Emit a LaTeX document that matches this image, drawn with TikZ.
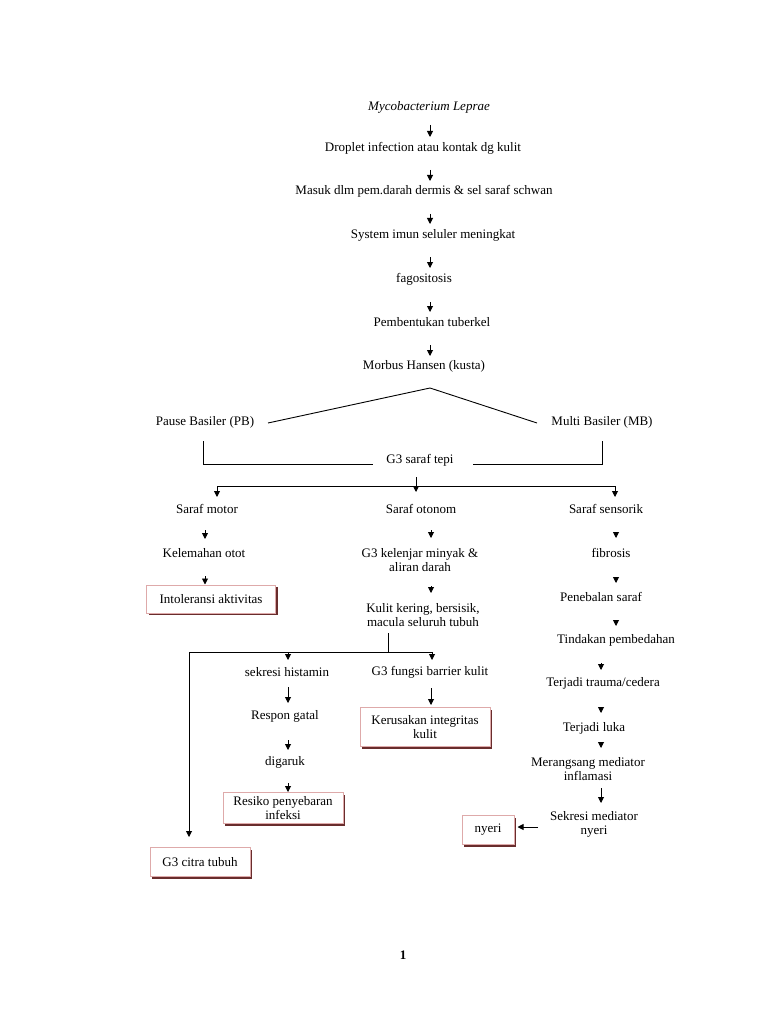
\documentclass[tikz,border=0pt]{standalone}
\usepackage{fontspec}
\setmainfont{Liberation Serif}
\usetikzlibrary{arrows.meta,shadows}
\definecolor{boxborder}{RGB}{222,170,170}
\definecolor{shadowc}{RGB}{105,45,45}
\begin{document}
\begin{tikzpicture}[x=1pt,y=-1pt,
  txt/.style={font=\fontsize{13pt}{14pt}\selectfont, inner sep=0pt, align=center},
  box/.style={txt, draw=boxborder, fill=white, line width=1pt,
     general shadow={fill=shadowc, shadow xshift=2pt, shadow yshift=-2pt}},
  arr/.style={-{Triangle[length=6pt,width=6pt]}, line width=0.9pt},
  ln/.style={line width=0.9pt}]
\useasboundingbox (0,0) rectangle (768,1024);
% main chain
\node[txt] (m)  at (429,107) {\textit{Mycobacterium Leprae}};
\node[txt] (d)  at (423,148) {Droplet infection atau kontak dg kulit};
\node[txt] (ms) at (424,191) {Masuk dlm pem.darah dermis \& sel saraf schwan};
\node[txt] (si) at (433,235) {System imun seluler meningkat};
\node[txt] (fg) at (424,279) {fagositosis};
\node[txt] (pt) at (432,322) {Pembentukan tuberkel};
\node[txt] (mh) at (424,366) {Morbus Hansen (kusta)};
\node[txt] (pb) at (205,422) {Pause Basiler (PB)};
\node[txt] (mb) at (602,422) {Multi Basiler (MB)};
\node[txt] (g3) at (420,460) {G3 saraf tepi};
\node[txt] (sm) at (207,509) {Saraf motor};
\node[txt] (so) at (421,509) {Saraf otonom};
\node[txt] (ss) at (606,509) {Saraf sensorik};
% left column
\node[txt] (ko) at (204,553) {Kelemahan otot};
\node[box, minimum width=129pt, minimum height=28pt] (ia) at (211,599) {Intoleransi aktivitas};
% center column
\node[txt] (gk) at (420,560) {G3 kelenjar minyak \&\\aliran darah};
\node[txt] (kk) at (423,615) {Kulit kering, bersisik,\\macula seluruh tubuh};
\node[txt] (sh) at (287,672) {sekresi histamin};
\node[txt] (gb) at (430,672) {G3 fungsi barrier kulit};
\node[txt] (rg) at (285,716) {Respon gatal};
\node[txt] (dg) at (285,762) {digaruk};
\node[box, minimum width=120pt, minimum height=31pt] (rp) at (283,808) {Resiko penyebaran\\infeksi};
\node[box, minimum width=130pt, minimum height=39pt] (ki) at (425,727) {Kerusakan integritas\\kulit};
\node[box, minimum width=100pt, minimum height=29pt] (ct) at (200,862) {G3 citra tubuh};
% right column
\node[txt] (fb) at (611,553) {fibrosis};
\node[txt] (ps) at (601,597) {Penebalan saraf};
\node[txt] (tp) at (616,640) {Tindakan pembedahan};
\node[txt] (tt) at (603,683) {Terjadi trauma/cedera};
\node[txt] (tl) at (594,728) {Terjadi luka};
\node[txt] (mi) at (588,769) {Merangsang mediator\\inflamasi};
\node[txt] (sk) at (594,824) {Sekresi mediator\\nyeri};
\node[box, minimum width=52pt, minimum height=29pt] (ny) at (488,830) {nyeri};
\node[txt, font=\fontsize{13pt}{14pt}\selectfont\bfseries] (pg) at (403,955) {1};
% main chain arrows
\draw[arr] ([shift={(1,18)}]m.center) -- ([shift={(7,-11)}]d.center);
\draw[arr] ([shift={(7,22)}]d.center) -- ([shift={(6,-10)}]ms.center);
\draw[arr] ([shift={(6,23)}]ms.center) -- ([shift={(-3,-11)}]si.center);
\draw[arr] ([shift={(-3,22)}]si.center) -- ([shift={(6,-11)}]fg.center);
\draw[arr] ([shift={(6,23)}]fg.center) -- ([shift={(-2,-10)}]pt.center);
\draw[arr] ([shift={(-2,23)}]pt.center) -- ([shift={(6,-10)}]mh.center);
% split PB / MB
\draw[ln] ([shift={(63,1)}]pb.center) -- ([shift={(6,22)}]mh.center) -- ([shift={(-65,1)}]mb.center);
% bracket
\draw[ln] ([shift={(-2,19)}]pb.center) |- ([shift={(-47,4)}]g3.center);
\draw[ln] ([shift={(0,19)}]mb.center) |- ([shift={(53,4)}]g3.center);
% G3 saraf tepi split
\draw[arr] ([shift={(-4,17)}]g3.center) -- ([shift={(-5,-17)}]so.center);
\draw[arr] ([shift={(-4,26)}]g3.center) -| ([shift={(10,-12)}]sm.center);
\draw[arr] ([shift={(-4,26)}]g3.center) -| ([shift={(9,-12)}]ss.center);
% left column arrows
\draw[arr] ([shift={(-2,21)}]sm.center) -- ([shift={(1,-14)}]ko.center);
\draw[arr] ([shift={(1,23)}]ko.center) -- ([shift={(-6,0)}]ia.north);
% center column arrows
\draw[arr] ([shift={(10,21)}]so.center) -- ([shift={(11,-22)}]gk.center);
\draw[arr] ([shift={(11,26)}]gk.center) -- ([shift={(8,-22)}]kk.center);
\draw[ln] ([shift={(-35,18)}]kk.center) -- ([shift={(-35,37)}]kk.center);
\draw[arr] ([shift={(-35,37)}]kk.center) -| ([shift={(1,-12)}]sh.center);
\draw[arr] ([shift={(-35,37)}]kk.center) -| ([shift={(2,-12)}]gb.center);
\draw[arr] ([shift={(-35,37)}]kk.center) -| ([shift={(-11,-10)}]ct.north);
\draw[arr] ([shift={(1,15)}]sh.center) -- ([shift={(3,-13)}]rg.center);
\draw[arr] ([shift={(3,24)}]rg.center) -- ([shift={(3,-12)}]dg.center);
\draw[arr] ([shift={(3,21)}]dg.center) -- ([shift={(5,0)}]rp.north);
\draw[arr] ([shift={(1,16)}]gb.center) -- ([shift={(6,-2)}]ki.north);
% right column arrows
\draw[arr] ([shift={(10,23)}]ss.center) -- ([shift={(5,-15)}]fb.center);
\draw[arr] ([shift={(5,24)}]fb.center) -- ([shift={(15,-14)}]ps.center);
\draw[arr] ([shift={(15,23)}]ps.center) -- ([shift={(0,-14)}]tp.center);
\draw[arr] ([shift={(-15,23)}]tp.center) -- ([shift={(-2,-13)}]tt.center);
\draw[arr] ([shift={(-2,24)}]tt.center) -- ([shift={(7,-15)}]tl.center);
\draw[arr] ([shift={(7,14)}]tl.center) -- ([shift={(13,-21)}]mi.center);
\draw[arr] ([shift={(13,19)}]mi.center) -- ([shift={(7,-21)}]sk.center);
\draw[arr] ([shift={(-56,3)}]sk.center) -- ([shift={(3,-3)}]ny.east);
\end{tikzpicture}
\end{document}
